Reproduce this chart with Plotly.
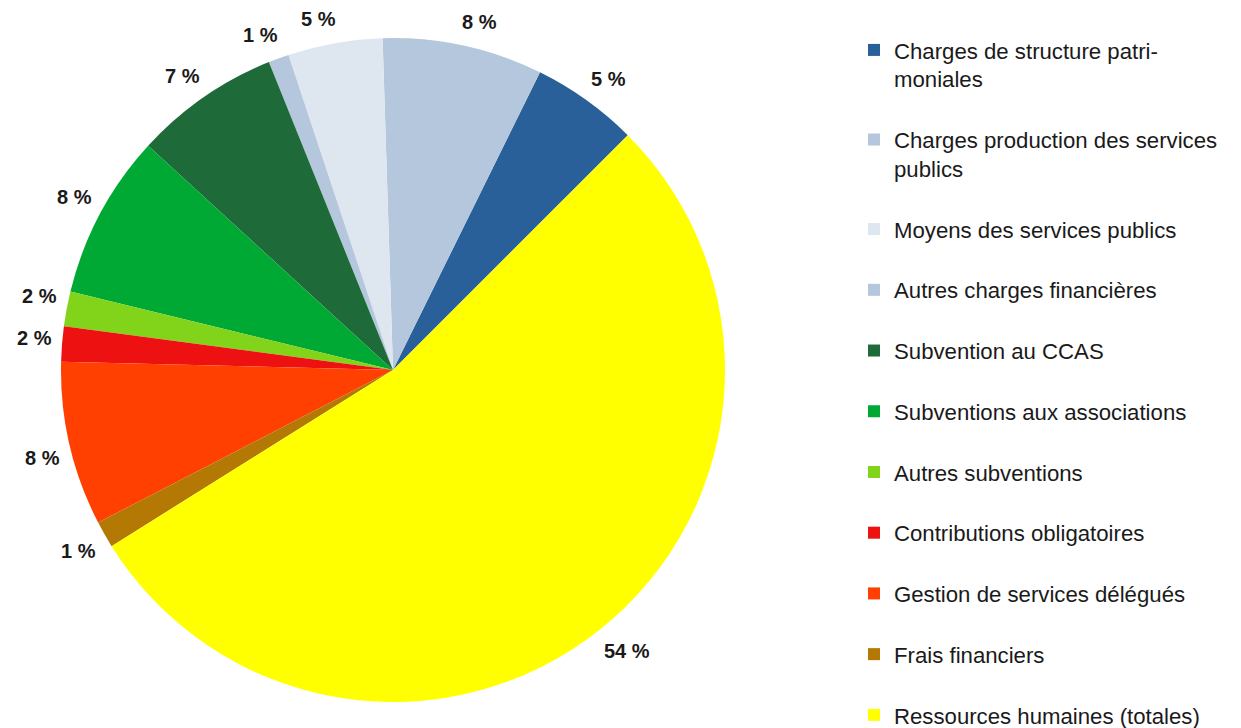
import math
import plotly.graph_objects as go

# Data
categories = [
    "Charges de structure patri-<br>moniales",
    "Charges production des services<br>publics",
    "Moyens des services publics",
    "Autres charges financières",
    "Subvention au CCAS",
    "Subventions aux associations",
    "Autres subventions",
    "Contributions obligatoires",
    "Gestion de services délégués",
    "Frais financiers",
    "Ressources humaines (totales)",
]
values = [5.2, 7.8, 4.6, 1.0, 7.1, 8.0, 1.7, 1.7, 8.0, 1.3, 53.6]
colors = ["#2a6099", "#b4c7dc", "#dee6ef", "#b4c7dc", "#1e6a39", "#00a933",
          "#81d41a", "#ee1111", "#ff4000", "#b47804", "#ffff00"]

total = sum(values)
pct_text = [f"{round(v / total * 100)} %" for v in values]
# extra blank line after each legend entry to reproduce the spacing
legend_labels = [c + "<br> " if i < len(categories) - 1 else c
                 for i, c in enumerate(categories)]

# page body has an 8px margin: work in figure coordinates
OFF = 8
W, H = 1241, 728
cx, cy, r = 393 - OFF, 370 - OFF, 332
label_r = r + 14          # anchor point of the labels, just outside the rim
label_half_h = 10
label_pull_x = 5

# first slice (counterclockwise) begins at 45 deg above the horizontal
start_math_angle = 45
rotation = 90 - start_math_angle - 360 * values[0] / total

fig = go.Figure(go.Pie(
    labels=legend_labels,
    values=values,
    textinfo="none",
    marker=dict(colors=colors, line=dict(width=0)),
    sort=False,
    direction="counterclockwise",
    rotation=rotation,
    hoverinfo="label+percent",
    domain=dict(x=[(cx - r) / W, (cx + r) / W],
                y=[(H - cy - r) / H, (H - cy + r) / H]),
))

# percentage labels: corner of the label box sits on a point just outside
# the middle of each slice, the box extending away from the pie
annotations = []
acc = 0.0
for v, t in zip(values, pct_text):
    mid = math.radians(start_math_angle + 360 * (acc + v / 2) / total)
    acc += v
    ux, uy = math.cos(mid), math.sin(mid)
    px = cx + label_r * ux
    py = cy - label_r * uy
    yshift = math.copysign(label_half_h * min(1.0, 6 * abs(uy)), uy)
    xshift = -math.copysign(label_pull_x, ux)
    annotations.append(dict(
        x=px / W, y=1 - py / H, xref="paper", yref="paper",
        text=f"<b>{t}</b>", showarrow=False,
        xanchor="left" if ux >= 0 else "right", yanchor="middle",
        xshift=xshift, yshift=yshift, borderpad=0,
        font=dict(family="Liberation Sans, Arial, sans-serif", size=20, color="#1a1a1a"),
    ))

fig.update_layout(
    width=W, height=H,
    margin=dict(l=0, r=0, t=0, b=0),
    paper_bgcolor="white",
    plot_bgcolor="white",
    showlegend=True,
    annotations=annotations,
    legend=dict(
        x=(854 - OFF) / W, xanchor="left",
        y=1 - (29 - OFF) / H, yanchor="top",
        valign="top",
        font=dict(family="Liberation Sans, Arial, sans-serif", size=22.2, color="#1a1a1a"),
        bgcolor="rgba(0,0,0,0)",
        borderwidth=0,
        maxheight=1.0,
    ),
)

fig.write_html("out.html")
